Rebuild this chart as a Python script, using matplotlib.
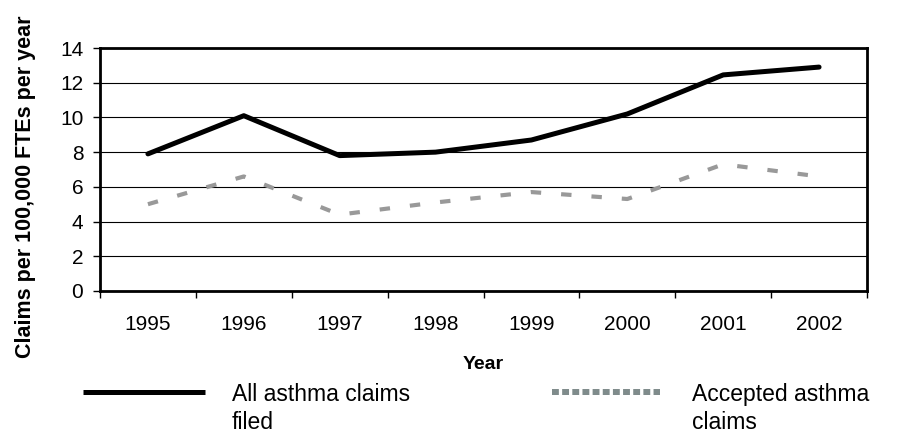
import matplotlib
matplotlib.use("Agg")
import matplotlib.pyplot as plt
from matplotlib.lines import Line2D
from matplotlib.offsetbox import HPacker

# Data
years = ["1995", "1996", "1997", "1998", "1999", "2000", "2001", "2002"]
all_claims = [7.9, 10.1, 7.8, 8.0, 8.7, 10.2, 12.45, 12.9]
accepted_claims = [5.0, 6.6, 4.4, 5.1, 5.7, 5.3, 7.3, 6.6]
series_labels = ["All asthma claims\nfiled", "Accepted asthma\nclaims"]
y_ticks = [0, 2, 4, 6, 8, 10, 12, 14]

plt.rcParams["font.family"] = ["Liberation Sans", "DejaVu Sans"]

leg_size = 16.5
px = leg_size * 100 / 72   # one em in pixels

fig = plt.figure(figsize=(8.99, 4.33), dpi=100)
ax = fig.add_axes([100 / 899, 1 - 291 / 433, 767 / 899, 243 / 433])

x = list(range(len(years)))
ax.plot(x, all_claims, color="black", lw=3.6, solid_capstyle="round",
        solid_joinstyle="round")
ax.plot(x, accepted_claims, color="#999999", lw=3.0, dashes=(2.5, 4.8),
        dash_capstyle="butt")

ax.set_xlim(-0.5, len(years) - 0.5)
ax.set_ylim(0, 14)
ax.set_yticks(y_ticks)
ax.set_yticklabels([str(v) for v in y_ticks], fontsize=15)
ax.yaxis.grid(True, color="black", lw=0.8)
ax.set_axisbelow(True)

# category ticks sit between the years, labels centred on the years
ax.set_xticks([i - 0.5 for i in range(len(years) + 1)])
ax.set_xticklabels([])
ax.set_xticks(x, minor=True)
ax.set_xticklabels(years, minor=True, fontsize=15)
ax.tick_params(axis="x", which="major", length=5, width=1, direction="out")
ax.tick_params(axis="x", which="minor", length=0, pad=17)
ax.tick_params(axis="y", length=5, width=1, pad=7)

for s in ax.spines.values():
    s.set_linewidth(2)
    s.set_color("black")

ax.set_xlabel("Year", fontsize=14, fontweight="bold", labelpad=16)
ax.set_ylabel("Claims per 100,000 FTEs per year", fontsize=15.5,
              fontweight="bold")
ax.yaxis.set_label_coords(-64 / 767, 0.43)

h1 = Line2D([], [], color="black", lw=3.6, solid_capstyle="butt")
h2 = Line2D([], [], color="#7f8b8b", lw=4.3, dashes=(1.15, 0.55),
            dash_capstyle="butt")
legs = []
legs.append(fig.legend([h1], [series_labels[0]], loc="upper left",
                       bbox_to_anchor=(83 / 899, 1 - 383 / 433), frameon=False,
                       fontsize=leg_size, handlelength=122 / px,
                       handletextpad=27 / px, handleheight=1.0,
                       borderpad=0, borderaxespad=0))
legs.append(fig.legend([h2], [series_labels[1]], loc="upper left",
                       bbox_to_anchor=(552 / 899, 1 - 383 / 433), frameon=False,
                       fontsize=leg_size, handlelength=108 / px,
                       handletextpad=32 / px, handleheight=1.0,
                       borderpad=0, borderaxespad=0))
# keep the handle level with the first line of the label
for leg in legs:
    for box in leg.findobj(HPacker):
        box.align = "top"
    for t in leg.get_texts():
        t.set_linespacing(1.3)

fig.savefig("out.png", dpi=100)
